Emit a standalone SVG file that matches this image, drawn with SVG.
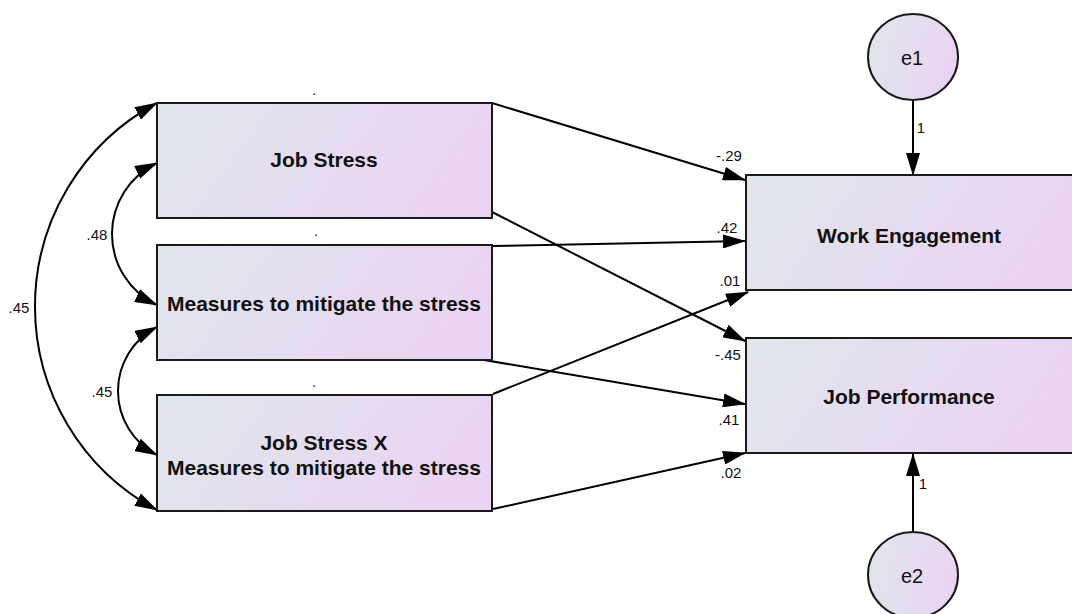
<svg xmlns="http://www.w3.org/2000/svg" width="1072" height="614" viewBox="0 0 1072 614">
<defs>
<linearGradient id="g" x1="0" y1="0" x2="1" y2="0.25">
<stop offset="0" stop-color="#dfe7ea"/>
<stop offset="1" stop-color="#ead4f3"/>
</linearGradient>
<marker id="ah" markerUnits="userSpaceOnUse" markerWidth="23" markerHeight="14" refX="22" refY="7" orient="auto-start-reverse">
<path d="M0,0 L23,7 L0,14 Z" fill="#000"/>
</marker>
</defs>
<style>
.box{fill:url(#g);stroke:#1a1a1a;stroke-width:2}
.t{font-family:"Liberation Sans",Arial,sans-serif;font-weight:bold;font-size:21px;text-anchor:middle;fill:#111}
.l{font-family:"Liberation Sans",Arial,sans-serif;font-size:15px;fill:#111;text-anchor:middle}
.e{font-family:"Liberation Sans",Arial,sans-serif;font-size:20px;fill:#111;text-anchor:middle}
.c{fill:none;stroke:#000;stroke-width:2}
</style>
<rect width="1072" height="614" fill="#fff"/>
<g id="connectors">
<path class="c" d="M157,163 A78.5,78.5 0 0 0 157,305" marker-start="url(#ah)" marker-end="url(#ah)"/>
<path class="c" d="M157,327 A72,72 0 0 0 157,455" marker-start="url(#ah)" marker-end="url(#ah)"/>
<path class="c" d="M157,103 A230.7,230.7 0 0 0 157,510" marker-start="url(#ah)" marker-end="url(#ah)"/>
<line class="c" x1="492" y1="103" x2="745" y2="180" marker-end="url(#ah)"/>
<line class="c" x1="492" y1="212" x2="745" y2="341" marker-end="url(#ah)"/>
<line class="c" x1="492" y1="246" x2="745" y2="241" marker-end="url(#ah)"/>
<line class="c" x1="484" y1="360" x2="745" y2="404" marker-end="url(#ah)"/>
<line class="c" x1="493" y1="394" x2="748" y2="292" marker-end="url(#ah)"/>
<line class="c" x1="493" y1="509" x2="745" y2="453" marker-end="url(#ah)"/>
<line class="c" x1="913" y1="100" x2="913" y2="175" marker-end="url(#ah)"/>
<line class="c" x1="913" y1="531" x2="913" y2="454" marker-end="url(#ah)"/>
<text class="l" x="97" y="240">.48</text>
<text class="l" x="102" y="397">.45</text>
<text class="l" x="19" y="313">.45</text>
<text class="l" x="729" y="161">-.29</text>
<text class="l" x="727" y="233">.42</text>
<text class="l" x="730" y="286">.01</text>
<text class="l" x="728" y="360">-.45</text>
<text class="l" x="729" y="425">.41</text>
<text class="l" x="731" y="478">.02</text>
<text class="l" x="921" y="133">1</text>
<text class="l" x="923" y="489">1</text>
</g>
<g id="job-stress">
<rect class="box" x="157" y="103" width="335" height="115"/>
<text class="t" x="324" y="167">Job Stress</text>
<text class="l" x="314" y="95">.</text>
</g>
<g id="measures">
<rect class="box" x="157" y="245" width="335" height="115"/>
<text class="t" x="324" y="311">Measures to mitigate the stress</text>
<text class="l" x="316" y="236">.</text>
</g>
<g id="interaction">
<rect class="box" x="157" y="395" width="335" height="116"/>
<text class="t" x="324" y="450">Job Stress X</text>
<text class="t" x="324" y="475">Measures to mitigate the stress</text>
<text class="l" x="314" y="387">.</text>
</g>
<g id="work-engagement">
<rect class="box" x="746" y="175" width="332" height="115"/>
<text class="t" x="909" y="243">Work Engagement</text>
</g>
<g id="job-performance">
<rect class="box" x="746" y="338" width="332" height="115"/>
<text class="t" x="909" y="404">Job Performance</text>
</g>
<g id="e1">
<ellipse class="box" cx="913" cy="57" rx="45" ry="43"/>
<text class="e" x="912" y="65">e1</text>
</g>
<g id="e2">
<ellipse class="box" cx="913" cy="575" rx="45" ry="43"/>
<text class="e" x="912" y="583">e2</text>
</g>
</svg>
